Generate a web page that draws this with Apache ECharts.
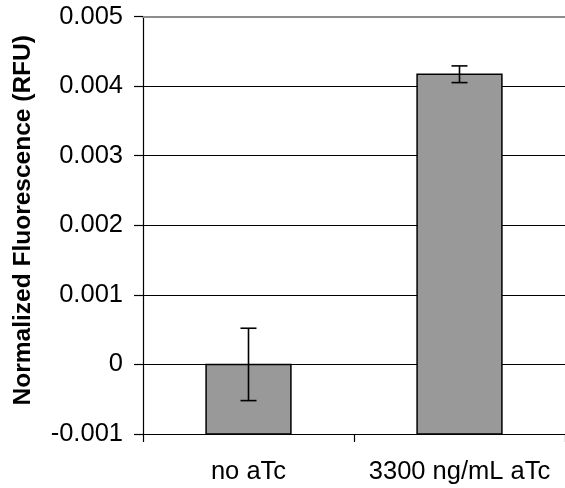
<!DOCTYPE html>
<html>
<head>
<meta charset="utf-8">
<script src="https://cdn.jsdelivr.net/npm/echarts@6/dist/echarts.min.js"></script>
<style>
  html, body { margin: 0; padding: 0; background: #fff; }
  #chart { width: 565px; height: 488px; }
</style>
</head>
<body>
<div id="chart"></div>
<script>
// Fluorescence readings with and without inducer
const categories = ['no aTc', '3300 ng/mL aTc'];
const means = [0, 0.00417];
const errors = [0.00052, 0.00012];
const yTicks = [-0.001, 0, 0.001, 0.002, 0.003, 0.004, 0.005];

const yMin = yTicks[0];
const yMax = yTicks[yTicks.length - 1];
const FONT = '"Liberation Sans", Arial, sans-serif';

const barData = categories.map((c, i) => [i, means[i]]);
const errData = categories.map((c, i) => [i, means[i] - errors[i], means[i] + errors[i]]);

const chart = echarts.init(document.getElementById('chart'), null, { renderer: 'canvas' });

chart.setOption({
  animation: false,
  backgroundColor: '#fff',
  grid: { left: 143, right: -4, top: 16.5, bottom: 54, containLabel: false },
  xAxis: [{
    type: 'category',
    data: categories,
    position: 'bottom',
    axisLine: { onZero: false, lineStyle: { color: '#000', width: 1.2 } },
    axisTick: { show: true, inside: false, length: 8, alignWithLabel: false, lineStyle: { color: '#000', width: 1.2 } },
    axisLabel: { color: '#000', fontFamily: FONT, fontSize: 25.5, margin: 25, interval: 0, hideOverlap: false },
    splitLine: { show: false }
  }, {
    type: 'category',
    data: categories,
    position: 'top',
    axisLine: { onZero: false, lineStyle: { color: '#8c8c8c', width: 2 } },
    axisTick: { show: false },
    axisLabel: { show: false }
  }],
  yAxis: {
    type: 'value',
    min: yMin,
    max: yMax,
    interval: 0.001,
    name: 'Normalized Fluorescence (RFU)',
    nameLocation: 'middle',
    nameGap: 107,
    nameTextStyle: { color: '#000', fontFamily: FONT, fontSize: 24.5, fontWeight: 'bold', padding: [0, 0, 0, 10] },
    axisLine: { show: true, lineStyle: { color: '#000', width: 1.2 } },
    axisTick: { show: true, inside: false, length: 9, lineStyle: { color: '#000', width: 1.2 } },
    axisLabel: {
      color: '#000', fontFamily: FONT, fontSize: 25.5, margin: 20,
      formatter: v => String(Math.round(v * 1000) / 1000)
    },
    splitLine: { show: true, lineStyle: { color: '#000', width: 1.2 } }
  },
  series: [{
    type: 'custom',
    name: 'bars',
    data: barData,
    encode: { x: 0, y: 1 },
    renderItem: (params, api) => {
      const cat = api.value(0);
      const top = api.coord([cat, api.value(1)]);
      const base = api.coord([cat, yMin]);
      const w = api.size([1, 0])[0] * 0.402;
      return {
        type: 'rect',
        shape: { x: top[0] - w / 2, y: top[1], width: w, height: base[1] - top[1] },
        style: { fill: '#999999', stroke: '#000', lineWidth: 1.5 }
      };
    },
    z: 3
  }, {
    type: 'custom',
    name: 'error',
    data: errData,
    encode: { x: 0, y: [1, 2] },
    renderItem: (params, api) => {
      const cat = api.value(0);
      const lo = api.coord([cat, api.value(1)]);
      const hi = api.coord([cat, api.value(2)]);
      const cap = 8;
      const style = { stroke: '#000', lineWidth: 1.6 };
      return {
        type: 'group',
        children: [
          { type: 'line', shape: { x1: hi[0], y1: hi[1], x2: lo[0], y2: lo[1] }, style },
          { type: 'line', shape: { x1: hi[0] - cap, y1: hi[1], x2: hi[0] + cap, y2: hi[1] }, style },
          { type: 'line', shape: { x1: lo[0] - cap, y1: lo[1], x2: lo[0] + cap, y2: lo[1] }, style }
        ]
      };
    },
    z: 4
  }]
});
</script>
</body>
</html>
